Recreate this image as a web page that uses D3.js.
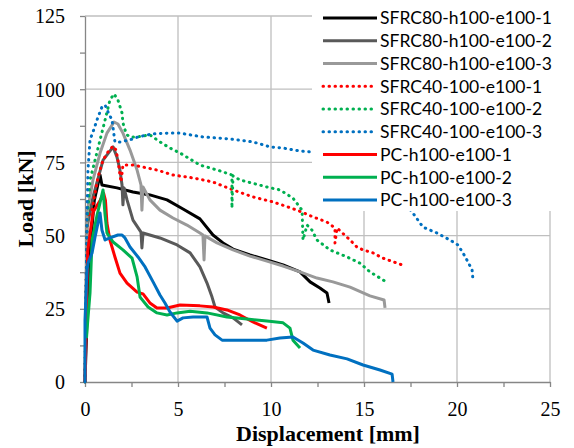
<!DOCTYPE html>
<html>
<head>
<meta charset="utf-8">
<script src="https://cdn.jsdelivr.net/npm/d3@7"></script>
<style>
  body { margin: 0; background: #fff; }
  svg { display: block; }
</style>
</head>
<body>
<svg width="574" height="448"></svg>
<script>
// load-displacement curves: [displacement mm, load kN]
const sfrc80_1 = [[0,0],[0.2,40],[0.5,62],[0.81,70.7],[0.91,67.3],[1.72,66.3],[2.58,64.9],[3.49,63.9],[4.41,62.2],
  [5.27,59.1],[6.18,55.7],[6.88,50.2],[7.42,47.5],[7.96,45.4],[8.87,43.4],[9.78,41.7],[10.65,40.0],[11.56,37.6],
  [12.10,34.2],[12.63,32.1],[13.01,30.4],[13.12,27.0]];
const sfrc80_2 = [[0,0],[0.11,52.9],[0.43,63.2],[0.97,75.8],[1.51,80.3],[1.72,76.8],[1.88,72.4],[1.99,67.3],[2.04,60.5],
  [2.10,66.3],[2.26,62.2],[2.58,55.3],[3.01,51.2],[3.06,45.8],[3.12,50.9],[4.03,49.2],[4.95,46.8],[5.65,44.1],
  [6.18,39.3],[6.56,33.8],[6.83,29.0],[6.99,25.6],[7.42,23.6],[7.96,21.9],[8.44,19.5]];
const sfrc80_3 = [[0,0],[0.11,57.7],[0.43,69.0],[0.81,78.2],[1.18,85.0],[1.56,88.8],[1.77,88.1],[2.04,85.0],[2.42,79.2],
  [2.80,72.4],[3.01,67.3],[3.06,58.7],[3.12,66.6],[3.49,62.2],[4.03,58.7],[4.73,56.0],[5.48,53.6],[6.18,50.9],
  [6.34,50.2],[6.40,41.7],[6.45,49.9],[7.10,47.5],[7.96,45.1],[8.87,43.0],[9.78,41.3],[10.65,39.6],[11.56,37.6],
  [12.47,35.5],[13.33,34.2],[14.25,32.4],[15.32,29.4],[16.08,28.0],[16.13,25.3]];
const sfrc40_1 = [[0,0],[0.11,56.4],[0.38,58.7],[0.54,64.5],[0.70,70.0],[0.97,75.8],[1.24,78.6],[1.51,80.6],[1.67,79.2],
  [1.77,75.8],[1.88,70.7],[1.94,68.3],[2.04,74.1],[2.58,74.1],[3.12,73.4],[3.87,72.4],[4.73,70.7],[5.81,69.7],
  [6.88,68.3],[7.96,65.6],[9.03,63.2],[10.11,61.5],[11.40,58.7],[12.26,56.4],[13.01,54.6],[13.44,52.6],[13.44,47.5],
  [13.55,52.6],[14.25,48.5],[14.62,46.1],[14.95,45.1],[15.48,44.1],[16.02,42.3],[17.04,40.0]];
const sfrc40_2 = [[0,0],[0.11,54.3],[0.27,69.0],[0.54,75.8],[0.81,82.7],[1.08,89.5],[1.34,96.3],[1.56,98.4],[1.77,96.3],
  [1.99,91.9],[2.04,88.5],[2.15,86.1],[2.26,84.4],[2.42,83.7],[2.80,83.7],[3.49,84.4],[4.03,82.0],[4.57,79.9],
  [5.11,78.2],[6.18,74.1],[7.26,72.1],[7.90,70.7],[7.90,59.4],[7.96,70.4],[8.33,69.0],[9.78,66.6],[10.48,65.6],
  [11.18,62.8],[11.67,58.7],[11.72,48.5],[11.94,53.6],[12.20,51.9],[12.47,48.5],[13.17,45.1],[14.09,42.7],
  [14.78,40.6],[15.32,37.6],[15.86,35.5],[16.29,33.8]];
const sfrc40_3 = [[0,0],[0.11,57.7],[0.16,72.4],[0.27,82.7],[0.43,85.4],[0.70,90.5],[0.91,93.9],[1.08,94.6],[1.24,92.2],
  [1.45,89.5],[1.61,82.0],[1.88,82.0],[2.42,82.7],[2.85,83.7],[3.60,84.7],[4.41,85.0],[5.11,85.0],[6.34,83.7],
  [7.80,83.0],[9.03,82.0],[9.95,80.3],[10.65,79.9],[11.56,78.9],[12.10,78.6],[14.0,76.0],[16.0,68.0],[17.2,61.0],
  [17.63,57.7],[18.17,52.9],[18.92,50.9],[19.62,48.5],[20.05,46.8],[20.32,44.1],[20.59,41.0],[20.81,38.3],[20.86,34.8]];
const pc_1 = [[0,0],[0.1,30],[0.15,45],[0.43,58],[0.81,62],[1.0,64.5],[1.1,62],[1.18,54.3],[1.34,48.5],[1.61,42.7],
  [1.88,37.2],[2.26,33.8],[2.80,30.7],[3.12,30.1],[3.49,27.0],[3.87,25.3],[4.41,25.3],[5.11,26.3],[6.18,26.0],
  [6.88,25.6],[7.63,24.6],[8.33,22.9],[9.03,20.5],[9.78,18.4]];
const pc_2 = [[0.08,15],[0.11,17.8],[0.27,30.4],[0.38,48.5],[0.65,57],[0.97,65.6],[1.08,57],[1.18,50.9],[1.51,47.8],
  [2.04,45.1],[2.53,42.3],[2.80,35.9],[2.96,29.0],[3.39,25.6],[3.87,23.6],[4.41,22.9],[4.95,23.6],[5.65,24.2],
  [6.56,23.6],[7.63,22.2],[8.71,21.5],[9.78,20.8],[10.65,20.2],[11.02,18.4],[11.18,14.3],[11.56,11.6]];
const pc_3 = [[0,0],[0,21.2],[0.11,38.3],[0.16,40.6],[0.38,44.1],[0.54,49.5],[0.70,54.3],[0.81,57.7],[0.91,51.9],
  [1.08,48.5],[1.34,49.2],[1.77,50.2],[1.99,50.2],[2.15,49.2],[2.42,46.1],[2.85,42.7],[3.23,39.3],[3.66,34.2],
  [4.03,29.7],[4.30,27.0],[4.57,23.9],[4.95,20.8],[5.27,21.9],[5.81,22.2],[6.56,22.2],[6.72,18.4],[6.99,16.1],
  [7.37,14.3],[7.96,14.3],[9.78,14.3],[10.48,15.0],[11.18,15.4],[11.72,13.3],[12.26,10.9],[13.17,9.2],[14.09,7.9],
  [14.95,5.8],[15.86,4.1],[16.51,2.7],[16.56,0]];

const seriesNames = ['SFRC80-h100-e100-1','SFRC80-h100-e100-2','SFRC80-h100-e100-3',
  'SFRC40-100-e100-1','SFRC40-100-e100-2','SFRC40-100-e100-3',
  'PC-h100-e100-1','PC-h100-e100-2','PC-h100-e100-3'];
const seriesData = [sfrc80_1, sfrc80_2, sfrc80_3, sfrc40_1, sfrc40_2, sfrc40_3, pc_1, pc_2, pc_3];
const seriesColors = ['#000000','#595959','#999999','#ff0000','#00b050','#0070c0','#ff0000','#00b050','#0070c0'];
const seriesDotted = [false,false,false,true,true,true,false,false,false];

const xTicks = [0, 5, 10, 15, 20, 25];
const xMinor = [2.5, 7.5, 12.5, 17.5, 22.5];
const yTicks = [0, 25, 50, 75, 100, 125];
const yMinor = [12.5, 37.5, 62.5, 87.5, 112.5];

const svg = d3.select('svg');
const width = +svg.attr('width');
const height = +svg.attr('height');

// plot box
const plotLeft = 85, plotRight = 550, plotTop = 16, plotBottom = 382;

const x = d3.scaleLinear().domain([0, 25]).range([plotLeft, plotRight]);
const y = d3.scaleLinear().domain([0, 125]).range([plotBottom, plotTop]);

const serif = '"Liberation Serif", "Times New Roman", serif';

// grid
const grid = svg.append('g')
    .attr('stroke', '#bfbfbf')
    .attr('stroke-width', 1.3);
grid.selectAll('.gx').data(xTicks.slice(1)).join('line')
    .attr('x1', d => x(d)).attr('x2', d => x(d))
    .attr('y1', plotTop).attr('y2', plotBottom);
grid.selectAll('.gy').data(yTicks.slice(1)).join('line')
    .attr('x1', plotLeft).attr('x2', plotRight)
    .attr('y1', d => y(d)).attr('y2', d => y(d));

// axes
const axisColor = '#868686';
const xAxis = svg.append('g')
    .attr('transform', `translate(0,${plotBottom})`)
    .call(d3.axisBottom(x).tickValues(xTicks.concat(xMinor)).tickSize(5).tickSizeOuter(0)
      .tickFormat(d => xTicks.includes(d) ? d : ''));
const yAxis = svg.append('g')
    .attr('transform', `translate(${plotLeft},0)`)
    .call(d3.axisLeft(y).tickValues(yTicks.concat(yMinor)).tickSize(5).tickSizeOuter(0)
      .tickFormat(d => yTicks.includes(d) ? d : ''));

[xAxis, yAxis].forEach(a => {
  a.select('.domain').attr('stroke', axisColor).attr('stroke-width', 1.3);
  a.selectAll('.tick line').attr('stroke', axisColor).attr('stroke-width', 1.3);
  a.selectAll('.tick text')
      .attr('fill', '#000')
      .style('font-family', serif)
      .style('font-size', '20px');
});
xAxis.selectAll('.tick text').attr('y', 20).attr('dy', '0.71em');
yAxis.selectAll('.tick text').attr('x', -20).attr('dy', '0.34em');

// curves
const line = d3.line()
    .x(d => x(d[0]))
    .y(d => y(d[1]));

const curves = svg.append('g').attr('fill', 'none');
seriesData.forEach((pts, i) => {
  curves.append('path')
      .attr('d', line(pts))
      .attr('stroke', seriesColors[i])
      .attr('stroke-width', 3)
      .attr('stroke-linejoin', 'round')
      .attr('stroke-linecap', seriesDotted[i] ? 'round' : 'butt')
      .attr('stroke-dasharray', seriesDotted[i] ? '0.5,5.5' : null);
});

// legend, white box sits over the plot
const legend = svg.append('g');
legend.append('rect')
    .attr('x', 312).attr('y', 0)
    .attr('width', width - 312).attr('height', 211)
    .attr('fill', '#fff');

const rowY = i => 18 + i * 22.75;
const rows = legend.selectAll('.row').data(seriesNames).join('g')
    .attr('transform', (d, i) => `translate(0,${rowY(i)})`);
rows.append('line')
    .attr('x1', 323).attr('x2', 377)
    .attr('stroke', (d, i) => seriesColors[i])
    .attr('stroke-width', 3)
    .attr('stroke-linecap', (d, i) => seriesDotted[i] ? 'round' : 'butt')
    .attr('stroke-dasharray', (d, i) => seriesDotted[i] ? '0.5,5.5' : null);
const labels = rows.append('text')
    .attr('x', 380)
    .attr('dy', '0.36em')
    .style('font-family', 'Lato, "Open Sans", sans-serif')
    .style('font-size', '18px')
    .text(d => d);
// fit the longest label to the width it has in the picture
const w0 = labels.node().getComputedTextLength();
labels.style('font-size', `${18 * 172 / w0}px`);

// axis titles
svg.append('text')
    .attr('transform', 'translate(25,199) rotate(-90)')
    .attr('text-anchor', 'middle')
    .attr('dy', '0.35em')
    .style('font-family', serif)
    .style('font-weight', 'bold')
    .style('font-size', '22px')
    .text('Load [kN]');

svg.append('text')
    .attr('x', 328)
    .attr('y', 441)
    .attr('text-anchor', 'middle')
    .style('font-family', serif)
    .style('font-weight', 'bold')
    .style('font-size', '22px')
    .text('Displacement [mm]');
</script>
</body>
</html>
